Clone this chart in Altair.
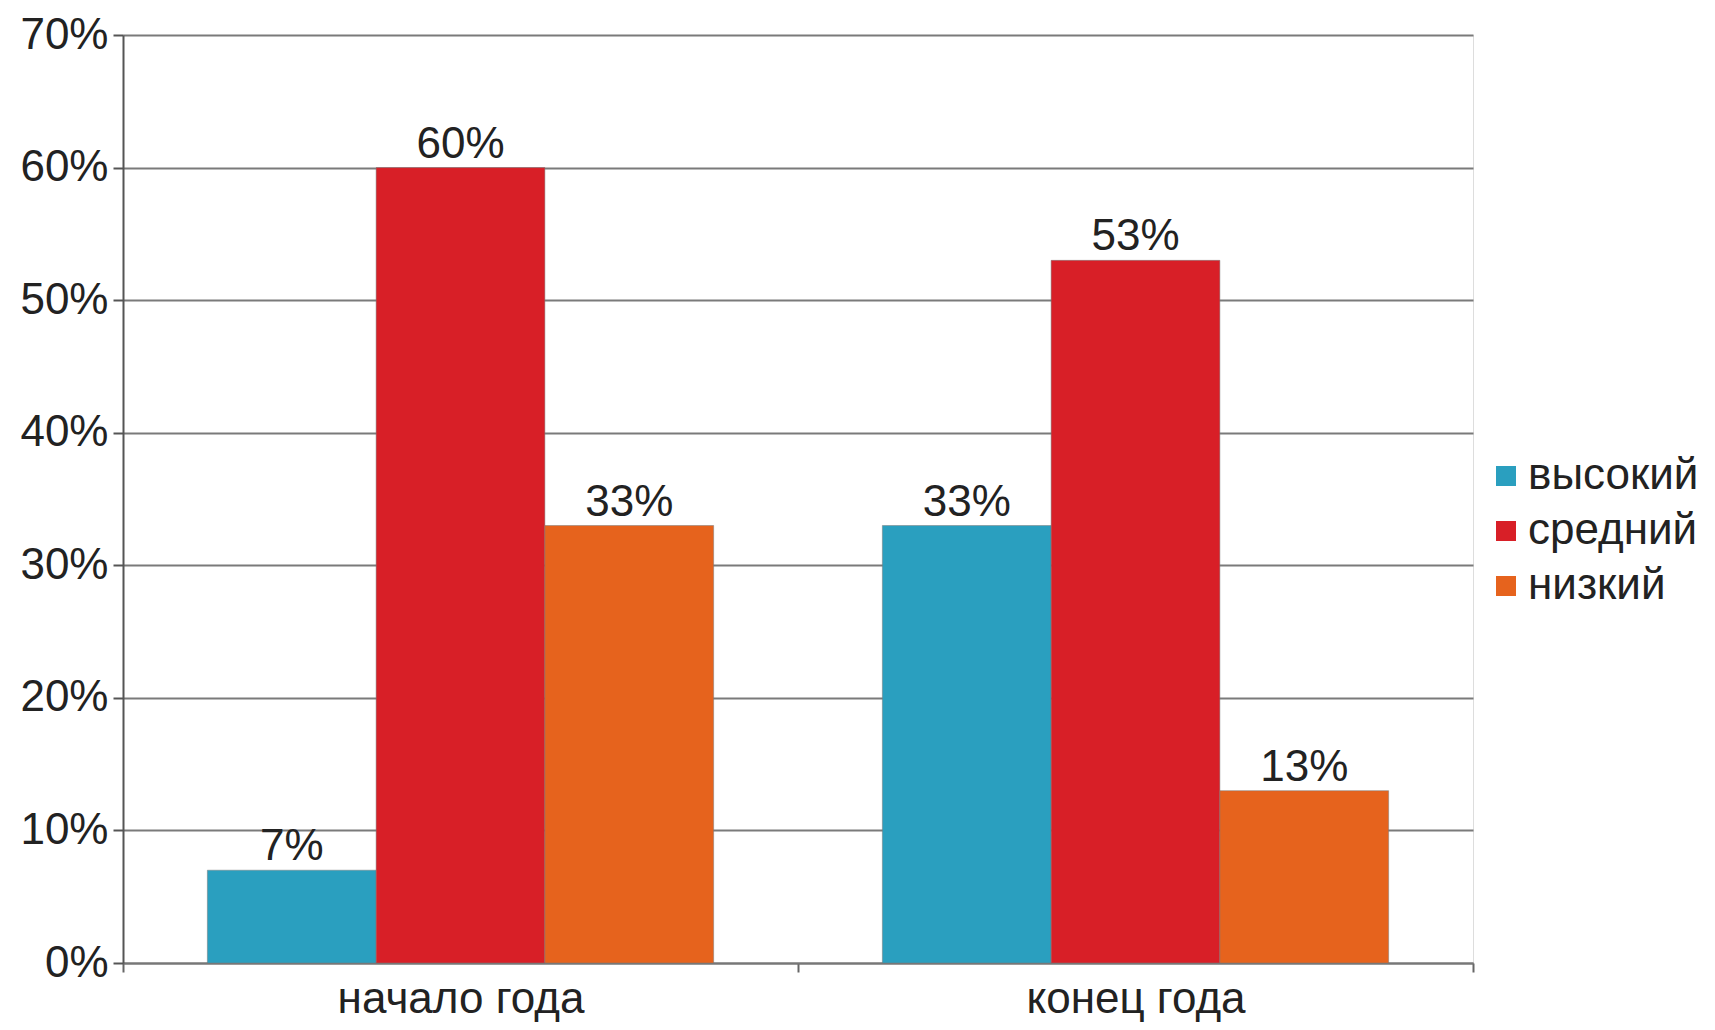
import altair as alt
import pandas as pd

categories = ["начало года", "конец года"]
levels = ["высокий", "средний", "низкий"]
high = [7, 33]
mid = [60, 53]
low = [33, 13]
colors = ["#2a9fbf", "#d81f27", "#e6631d"]
y_ticks = [0, 0.1, 0.2, 0.3, 0.4, 0.5, 0.6, 0.7]

rows = []
for lvl, vals in zip(levels, [high, mid, low]):
    for cat, v in zip(categories, vals):
        rows.append({"period": cat, "level": lvl, "value": v / 100})
df = pd.DataFrame(rows)

FONT = "Liberation Sans"
TXT = "#222222"
FS = 44

x_enc = alt.X(
    "period:N",
    sort=categories,
    title=None,
    scale=alt.Scale(paddingInner=0, paddingOuter=0),
    axis=alt.Axis(
        labelAngle=0,
        labelFontSize=FS,
        labelFont=FONT,
        labelColor=TXT,
        labelBaseline="alphabetic",
        labelPadding=40,
        labelLimit=0,
        tickBand="extent",
        tickSize=9,
        tickWidth=2,
        tickColor="#666666",
        domainColor="#777777",
        domainWidth=2,
        grid=False,
    ),
)
xoff = alt.XOffset("level:N", sort=levels, scale=alt.Scale(paddingInner=0, paddingOuter=0.5))
y_enc = alt.Y(
    "value:Q",
    title=None,
    scale=alt.Scale(domain=[0, 0.7], nice=False),
    axis=alt.Axis(
        values=y_ticks,
        format=".0%",
        labelFontSize=FS,
        labelFont=FONT,
        labelColor=TXT,
        labelPadding=5,
        labelLimit=0,
        tickSize=10,
        tickWidth=2,
        tickColor="#555555",
        domainColor="#555555",
        domainWidth=2,
        grid=True,
        gridColor="#7a7a7a",
        gridWidth=2,
    ),
)

bars = alt.Chart(df).mark_bar(stroke="#7a7a7a", strokeWidth=1, strokeOpacity=0.5).encode(
    x=x_enc,
    xOffset=xoff,
    y=y_enc,
    color=alt.Color(
        "level:N",
        sort=levels,
        scale=alt.Scale(domain=levels, range=colors),
        legend=alt.Legend(
            title=None,
            orient="none",
            legendX=1361,
            legendY=419,
            symbolType="square",
            symbolSize=400,
            symbolStrokeWidth=0,
            labelFontSize=FS,
            labelFont=FONT,
            labelColor=TXT,
            labelOffset=0,
            labelLimit=0,
            rowPadding=11,
            padding=0,
        ),
    ),
)

labels = alt.Chart(df).mark_text(
    dy=-10, baseline="alphabetic", fontSize=FS, font=FONT, color=TXT
).encode(
    x=alt.X("period:N", sort=categories),
    xOffset=alt.XOffset("level:N", sort=levels),
    y=alt.Y("value:Q"),
    text=alt.Text("value:Q", format=".0%"),
)

chart = (
    alt.layer(bars, labels)
    .properties(
        width=1350,
        height=928,
        autosize=alt.AutoSizeParams(type="none"),
        padding={"left": 115, "top": 27, "right": 234, "bottom": 59},
    )
    .configure_view(stroke=None)
    .configure(background="white")
)

chart.save("out.html", embed_options={"renderer": "svg", "actions": False})
